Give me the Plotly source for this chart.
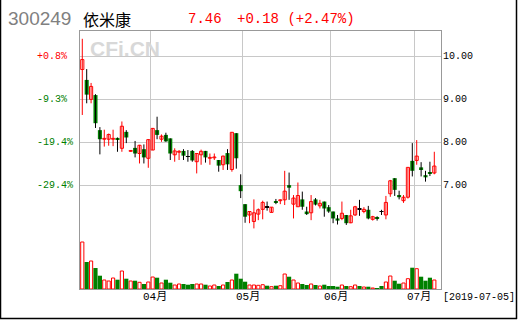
import plotly.graph_objects as go
import pandas as pd

code = "300249"
name = "依米康"
holidays = ["2019-04-05", "2019-05-01", "2019-05-02", "2019-05-03", "2019-06-07"]
dates = [d for d in pd.bdate_range("2019-03-08", "2019-07-05")
         if d.strftime("%Y-%m-%d") not in holidays]

opens = [9.69, 9.45, 9.00, 9.10, 8.29, 8.08, 8.08, 8.08, 8.11, 7.87,
         8.25, 7.80, 7.88, 7.75, 7.85, 7.64, 7.83, 8.29, 8.08, 8.18,
         8.10, 7.72, 7.78, 7.81, 7.68, 7.81, 7.56, 7.72, 7.81, 7.64,
         7.65, 7.60, 7.49, 7.76, 7.38, 8.22, 7.02, 6.58, 6.33, 6.18,
         6.35, 6.46, 6.52, 6.39, 6.65, 6.66, 6.68, 7.02, 6.58, 6.52,
         6.69, 6.41, 6.38, 6.69, 6.54, 6.64, 6.51, 6.41, 6.25, 6.25,
         6.33, 6.15, 6.33, 6.46, 6.41, 6.45, 6.23, 6.28, 6.41, 6.33,
         6.82, 7.18, 6.79, 6.66, 6.74, 7.58, 7.59, 7.43, 7.25, 7.32,
         7.30]
highs = [10.40, 9.70, 9.38, 9.12, 8.36, 8.30, 8.21, 8.30, 8.12, 8.49,
         8.29, 7.83, 8.04, 7.95, 7.96, 8.08, 8.34, 8.60, 8.19, 8.23,
         8.10, 7.87, 7.83, 7.85, 7.83, 7.83, 7.75, 7.84, 7.81, 7.75,
         7.75, 7.60, 7.70, 7.85, 8.24, 8.22, 7.27, 6.58, 6.42, 6.69,
         6.48, 6.66, 6.64, 6.51, 6.70, 6.69, 7.35, 7.31, 6.79, 7.08,
         6.87, 6.52, 6.79, 6.72, 6.68, 6.64, 6.56, 6.41, 6.33, 6.64,
         6.33, 6.45, 6.54, 6.68, 6.51, 6.54, 6.31, 6.30, 6.45, 6.77,
         7.14, 7.18, 6.89, 6.79, 7.43, 7.99, 8.06, 7.55, 7.35, 7.56,
         7.79]
lows = [8.64, 8.91, 8.91, 8.34, 7.73, 7.91, 7.93, 7.92, 7.79, 7.79,
        7.99, 7.79, 7.66, 7.52, 7.52, 7.42, 7.83, 8.08, 8.02, 8.02,
        7.60, 7.56, 7.60, 7.60, 7.56, 7.56, 7.29, 7.49, 7.54, 7.49,
        7.60, 7.33, 7.37, 7.37, 7.33, 7.40, 6.72, 6.15, 6.14, 6.02,
        6.21, 6.23, 6.43, 6.39, 6.58, 6.58, 6.56, 6.68, 6.25, 6.52,
        6.45, 6.33, 6.21, 6.55, 6.48, 6.29, 6.38, 6.14, 6.11, 6.21,
        6.10, 6.14, 6.31, 6.31, 6.37, 6.23, 6.20, 6.20, 6.33, 6.23,
        6.75, 6.77, 6.69, 6.61, 6.71, 7.22, 7.49, 7.22, 7.10, 7.23,
        7.27]
closes = [9.92, 9.11, 9.30, 8.45, 8.08, 8.09, 8.19, 8.09, 8.08, 8.38,
          8.12, 7.81, 7.75, 7.94, 7.66, 8.07, 8.33, 8.18, 8.15, 8.03,
          7.75, 7.81, 7.79, 7.70, 7.68, 7.59, 7.75, 7.80, 7.66, 7.66,
          7.66, 7.47, 7.69, 7.50, 8.24, 7.64, 6.88, 6.29, 6.41, 6.38,
          6.45, 6.62, 6.52, 6.51, 6.61, 6.68, 6.88, 6.96, 6.72, 6.78,
          6.52, 6.35, 6.64, 6.57, 6.60, 6.48, 6.41, 6.25, 6.20, 6.37,
          6.14, 6.31, 6.52, 6.46, 6.46, 6.25, 6.29, 6.24, 6.41, 6.62,
          7.12, 6.91, 6.74, 6.74, 7.43, 7.35, 7.69, 7.39, 7.20, 7.28,
          7.46]
volumes = [47.0, 27.0, 28.0, 21.0, 13.3, 9.0, 8.0, 11.0, 9.3, 18.0,
           10.3, 8.0, 8.3, 6.7, 5.0, 7.0, 12.0, 11.3, 6.0, 9.3,
           6.3, 4.0, 5.0, 5.0, 4.3, 5.0, 5.0, 5.0, 4.3, 3.0,
           4.0, 3.0, 4.0, 7.0, 9.0, 15.3, 10.3, 7.3, 4.0, 4.0,
           3.7, 4.3, 3.3, 2.3, 3.3, 3.3, 15.0, 12.3, 9.0, 6.0,
           5.0, 4.0, 5.0, 4.0, 3.0, 4.3, 3.0, 3.0, 2.3, 4.0,
           3.0, 2.3, 4.0, 3.0, 2.0, 2.3, 1.0, 0.7, 3.0, 7.0,
           13.0, 8.3, 5.3, 6.0, 10.3, 21.3, 20.3, 12.3, 8.3, 11.3,
           9.0]
price_ticks = [7, 8, 9, 10]

RED, GREEN, BLACK = "#ff0000", "#008000", "#000000"
GRID, FRAME = "#c8c8c8", "#999999"
MONO = "Liberation Mono, DejaVu Sans Mono, monospace"
CJK = "Liberation Mono, Noto Sans CJK SC, sans-serif"

W, H = 520, 320
L, R, T, B = 80, 441, 31, 289
X_RANGE = [-0.52, 81.52]
Y_RANGE = [4.62, 10.58]
VOL_RANGE = [0, 258]

n = len(closes)
idx = list(range(n))
up = [i for i in idx if closes[i] > opens[i]]
down = [i for i in idx if closes[i] < opens[i]]
doji = [i for i in idx if closes[i] == opens[i]]


def wick(ids):
    xs, ys = [], []
    for i in ids:
        xs += [i, i, None]
        ys += [lows[i], highs[i], None]
    return xs, ys


fig = go.Figure()
xs, ys = wick(up)
fig.add_trace(go.Scatter(x=xs, y=ys, mode="lines", line=dict(color=RED, width=1)))
xs, ys = wick(down + doji)
fig.add_trace(go.Scatter(x=xs, y=ys, mode="lines", line=dict(color=BLACK, width=1)))

MINH = 0.02
fig.add_trace(go.Bar(x=up, base=[opens[i] for i in up],
                     y=[max(closes[i] - opens[i], MINH) for i in up],
                     width=0.72, marker=dict(color="white", line=dict(color=RED, width=1))))
fig.add_trace(go.Bar(x=down, base=[closes[i] for i in down],
                     y=[max(opens[i] - closes[i], MINH) for i in down],
                     width=0.92, marker=dict(color=GREEN, line=dict(width=0))))
fig.add_trace(go.Bar(x=doji, base=[opens[i] - MINH / 2 for i in doji],
                     y=[MINH] * len(doji),
                     width=0.92, marker=dict(color=BLACK, line=dict(width=0))))

vup = up
vdn = down + doji
fig.add_trace(go.Bar(x=vup, y=[volumes[i] for i in vup], yaxis="y2", width=0.72,
                     marker=dict(color="white", line=dict(color=RED, width=1))))
fig.add_trace(go.Bar(x=vdn, y=[volumes[i] for i in vdn], yaxis="y2", width=0.95,
                     marker=dict(color=GREEN, line=dict(width=0))))

month_first = [i for i in idx[1:] if dates[i].month != dates[i - 1].month]


def px(x):
    return (x - L) / (R - L)


def py(y):
    return (B - y) / (B - T)


ann = []
base = closes[0]
for p in price_ticks:
    ann.append(dict(text=f"{p:.2f}", x=1, xref="paper", xanchor="left", xshift=0,
                    y=p, yref="y", yanchor="middle", showarrow=False,
                    font=dict(family=MONO, size=10, color=BLACK)))
    pct = (p / base - 1) * 100
    ann.append(dict(text=f"{pct:+.1f}%", x=px(35), xref="paper", xanchor="left",
                    y=p, yref="y", yanchor="middle", showarrow=False,
                    font=dict(family=MONO, size=10, color=RED if pct > 0 else GREEN)))
for i in month_first:
    ann.append(dict(text=f"{dates[i].month:02d}月", x=i + 0.55, xref="x", xanchor="center",
                    y=py(297), yref="paper", yanchor="middle", showarrow=False,
                    font=dict(family=CJK, size=11, color=BLACK)))
ann.append(dict(text=f"[{dates[-1].strftime('%Y-%m-%d')}]", x=px(441), xref="paper",
                xanchor="left", y=py(297), yref="paper", yanchor="middle", showarrow=False,
                font=dict(family=MONO, size=10, color=BLACK)))

chg = closes[-1] - closes[-2]
ann += [
    dict(text=code, x=px(6), xref="paper", xanchor="left", y=py(19), yref="paper",
         yanchor="middle", showarrow=False,
         font=dict(family="Liberation Sans, Arial, sans-serif", size=19, color="#808080")),
    dict(text=name, x=px(81), xref="paper", xanchor="left", y=py(19), yref="paper",
         yanchor="middle", showarrow=False,
         font=dict(family="Noto Sans CJK SC, sans-serif", size=16, color=BLACK)),
    dict(text=f"{closes[-1]:.2f}", x=px(186), xref="paper", xanchor="left", y=py(19),
         yref="paper", yanchor="middle", showarrow=False,
         font=dict(family=MONO, size=14, color=RED)),
    dict(text=f"{chg:+.2f} ({chg / closes[-2] * 100:+.2f}%)", x=px(235), xref="paper",
         xanchor="left", y=py(19), yref="paper", yanchor="middle", showarrow=False,
         font=dict(family=MONO, size=14, color=RED)),
    dict(text="<b>CFi.CN</b>", x=px(88), xref="paper", xanchor="left", y=py(48),
         yref="paper", yanchor="middle", showarrow=False,
         font=dict(family="Liberation Sans, Arial, sans-serif", size=21, color="#d8d8d8")),
]

shapes = [
    dict(type="line", xref="paper", yref="paper", x0=px(0.5), x1=px(0.5), y0=py(0), y1=py(319),
         line=dict(color=BLACK, width=1.5)),
    dict(type="line", xref="paper", yref="paper", x0=px(516.5), x1=px(516.5), y0=py(0), y1=py(319),
         line=dict(color=BLACK, width=1.5)),
    dict(type="line", xref="paper", yref="paper", x0=px(0), x1=px(517), y0=py(318.5), y1=py(318.5),
         line=dict(color=BLACK, width=1.5)),
]

fig.update_layout(
    width=W, height=H, margin=dict(l=L, r=W - R, t=T, b=H - B),
    paper_bgcolor="white", plot_bgcolor="white", showlegend=False,
    barmode="overlay", hovermode=False,
    xaxis=dict(range=X_RANGE, tickvals=[i - 0.5 for i in month_first], showticklabels=False,
               showgrid=True, gridcolor=GRID, gridwidth=1, zeroline=False, ticks="",
               showline=True, linecolor=FRAME, linewidth=1, mirror=True),
    yaxis=dict(range=Y_RANGE, tickvals=price_ticks, showticklabels=False, showgrid=True,
               gridcolor=GRID, gridwidth=1, zeroline=False, ticks="",
               showline=True, linecolor=FRAME, linewidth=1, mirror=True),
    yaxis2=dict(range=VOL_RANGE, overlaying="y", visible=False),
    annotations=ann, shapes=shapes,
)

fig.write_html("out.html")
